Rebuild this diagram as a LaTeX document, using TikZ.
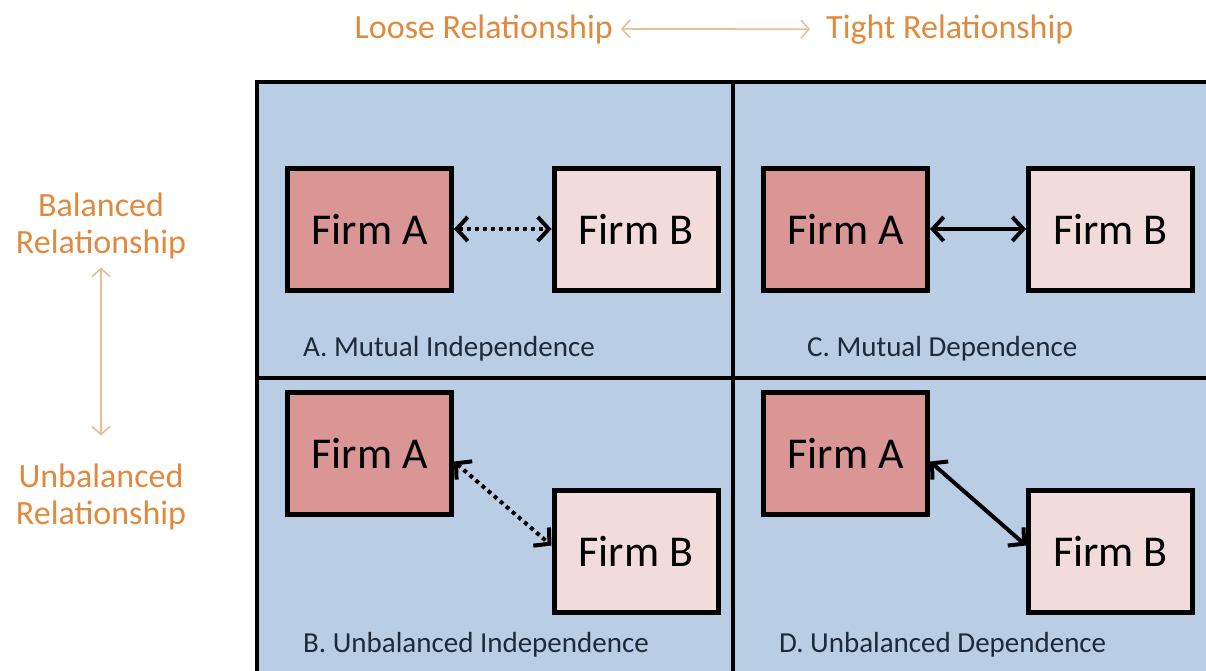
\documentclass[tikz,border=0pt]{standalone}
\usepackage{fontspec}
\setmainfont{Carlito}
\usetikzlibrary{arrows.meta}

\definecolor{quadblue}{HTML}{B9CDE5}
\definecolor{firmdark}{HTML}{D99694}
\definecolor{firmlight}{HTML}{F2DCDB}
\definecolor{axisorange}{HTML}{DF8A3E}
\definecolor{axisarrow}{HTML}{E9BE95}
\definecolor{labelnavy}{HTML}{1C2A3A}

\tikzset{
  firm/.style={draw=black, line width=5pt, minimum width=164pt, minimum height=122pt,
    inner sep=0pt, font=\fontsize{44}{50}\selectfont},
  firmA/.style={firm, fill=firmdark},
  firmB/.style={firm, fill=firmlight},
  quadlabel/.style={anchor=base west, inner sep=0pt, text=labelnavy,
    font=\fontsize{29}{34}\selectfont},
  axislabel/.style={text=axisorange, inner sep=0pt, font=\fontsize{34}{37.5}\selectfont},
  axisline/.style={draw=axisarrow, line width=1.6pt,
    {Straight Barb[length=8pt,width=18pt]}-{Straight Barb[length=8pt,width=18pt]}},
  link/.style={line width=4pt,
    {Straight Barb[length=11pt,width=24pt]}-{Straight Barb[length=11pt,width=24pt]}},
  looselink/.style={link, dash pattern=on 4pt off 4pt},
  grid/.style={draw=black, line width=3.5pt}
}

\begin{document}
\begin{tikzpicture}[x=1pt, y=-1pt]
  \useasboundingbox (0,0) rectangle (1206,670);
  \clip (0,0) rectangle (1206,670);

  % quadrant field and its dividing lines
  \fill[quadblue] (257,82) rectangle (1220,690);
  \draw[grid] (257,690) -- (257,82) -- (1220,82);
  \draw[grid] (733,82) -- (733,690);
  \draw[grid] (257,378) -- (1220,378);

  % header axis
  \node[axislabel, anchor=base east] (loose) at (613,38) {Loose Relationship};
  \node[axislabel, anchor=base west] (tight) at (826,38) {Tight Relationship};
  \draw[axisline] ([xshift=8pt]loose.east) -- ([xshift=-16pt]tight.west);

  % side axis
  \node[axislabel, align=center] (bal) at (101,226) {Balanced\\Relationship};
  \node[axislabel, align=center] (unbal) at (101,497) {Unbalanced\\Relationship};
  \draw[axisline] ([yshift=-8pt]bal.south) -- ([yshift=28pt]unbal.north);

  % A. mutual independence
  \node[firmA] (a1) at (369.5,229) {Firm A};
  \node[firmB] (b1) at (636,229) {Firm B};
  \draw[looselink] (a1.east) -- (b1.west);
  \node[quadlabel] (lblA) at (303,356) {A. Mutual Independence};

  % C. mutual dependence
  \node[firmA] (a3) at (845.5,229) {Firm A};
  \node[firmB] (b3) at (1110.5,229) {Firm B};
  \draw[link] (a3.east) -- (b3.west);
  \node[quadlabel] (lblC) at (807,356) {C. Mutual Dependence};

  % B. unbalanced independence
  \node[firmA] (a2) at (369.5,453.5) {Firm A};
  \node[firmB] (b2) at (636,551.5) {Firm B};
  \draw[looselink] ([yshift=-8pt]a2.east) -- ([yshift=6pt]b2.west);
  \node[quadlabel] (lblB) at (303,652) {B. Unbalanced Independence};

  % D. unbalanced dependence
  \node[firmA] (a4) at (845.5,453.5) {Firm A};
  \node[firmB] (b4) at (1110.5,551.5) {Firm B};
  \draw[link] ([yshift=-8pt]a4.east) -- ([yshift=6pt]b4.west);
  \node[quadlabel] (lblD) at (779,652) {D. Unbalanced Dependence};
\end{tikzpicture}
\end{document}
